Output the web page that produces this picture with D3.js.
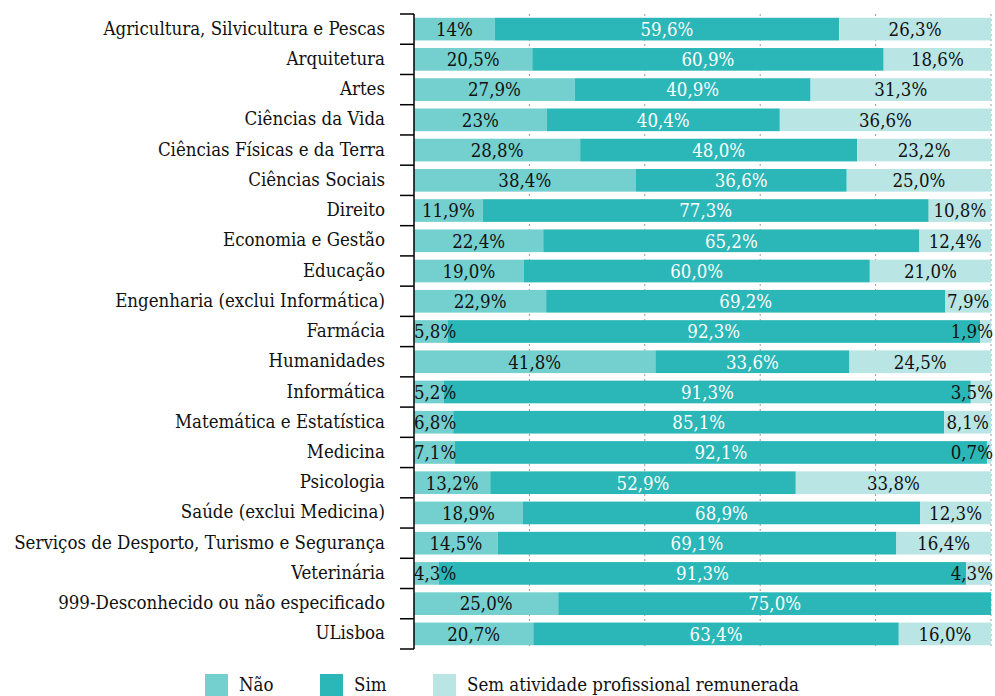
<!DOCTYPE html>
<html>
<head>
<meta charset="UTF-8" />
<title>Atividade profissional remunerada por área</title>
<style>
  body { margin: 0; background: #fff; }
</style>
</head>
<body>
<script src="https://d3js.org/d3.v7.min.js"></script>
<script>
// categories (top to bottom)
var categories = [
  "Agricultura, Silvicultura e Pescas",
  "Arquitetura",
  "Artes",
  "Ciências da Vida",
  "Ciências Físicas e da Terra",
  "Ciências Sociais",
  "Direito",
  "Economia e Gestão",
  "Educação",
  "Engenharia (exclui Informática)",
  "Farmácia",
  "Humanidades",
  "Informática",
  "Matemática e Estatística",
  "Medicina",
  "Psicologia",
  "Saúde (exclui Medicina)",
  "Serviços de Desporto, Turismo e Segurança",
  "Veterinária",
  "999-Desconhecido ou não especificado",
  "ULisboa"
];

// values as printed in the chart (pt-PT decimal comma)
var nao = ["14", "20,5", "27,9", "23", "28,8", "38,4", "11,9", "22,4", "19,0", "22,9", "5,8",
           "41,8", "5,2", "6,8", "7,1", "13,2", "18,9", "14,5", "4,3", "25,0", "20,7"];
var sim = ["59,6", "60,9", "40,9", "40,4", "48,0", "36,6", "77,3", "65,2", "60,0", "69,2", "92,3",
           "33,6", "91,3", "85,1", "92,1", "52,9", "68,9", "69,1", "91,3", "75,0", "63,4"];
var sem = ["26,3", "18,6", "31,3", "36,6", "23,2", "25,0", "10,8", "12,4", "21,0", "7,9", "1,9",
           "24,5", "3,5", "8,1", "0,7", "33,8", "12,3", "16,4", "4,3", "", "16,0"];

var seriesNames = ["Não", "Sim", "Sem atividade profissional remunerada"];
var seriesColors = ["#74cfcf", "#2bb7b7", "#b9e5e5"];
var labelColors = ["#111", "#fff", "#111"];

var W = 995, H = 696;
var margin = { top: 14, right: 4, bottom: 47, left: 414 };
var FONT = "'DejaVu Serif Condensed', 'DejaVu Serif', serif";
var FS = "18.5px";

function num(s) { return s === "" ? 0 : +s.replace(",", "."); }

var rows = categories.map(function(c, i) {
  return { cat: c, "Não": num(nao[i]), "Sim": num(sim[i]),
           "Sem atividade profissional remunerada": num(sem[i]),
           labels: [nao[i], sim[i], sem[i]] };
});

var stacked = d3.stack()
  .keys(seriesNames)
  .offset(d3.stackOffsetExpand)(rows);

var svg = d3.select("body").append("svg")
  .attr("width", W)
  .attr("height", H)
  .style("font-family", FONT)
  .style("font-stretch", "condensed");

var x = d3.scaleLinear()
  .domain([0, 1])
  .range([margin.left, W - margin.right]);

var y = d3.scaleBand()
  .domain(categories)
  .range([margin.top, H - margin.bottom])
  .paddingInner(0.25)
  .paddingOuter(0.125);

var top0 = y.range()[0];

// dashed vertical grid
svg.append("g")
  .selectAll("line")
  .data([0.2, 0.4, 0.6, 0.8, 1])
  .join("line")
  .attr("x1", function(d) { return x(d); })
  .attr("x2", function(d) { return x(d); })
  .attr("y1", top0)
  .attr("y2", y.range()[1])
  .attr("stroke", "#999")
  .attr("stroke-width", 1)
  .attr("stroke-dasharray", "2,3");

// bars
var layers = svg.append("g")
  .selectAll("g")
  .data(stacked)
  .join("g")
  .attr("fill", function(d, i) { return seriesColors[i]; });

layers.selectAll("rect")
  .data(function(d) { return d; })
  .join("rect")
  .attr("x", function(d) { return x(d[0]); })
  .attr("width", function(d) { return x(d[1]) - x(d[0]); })
  .attr("y", function(d) { return y(d.data.cat); })
  .attr("height", y.bandwidth());

// value labels, centred on segment but kept inside the bar
var lab = svg.append("g")
  .style("font-size", FS);

stacked.forEach(function(layer, si) {
  layer.forEach(function(d) {
    var txt = d.data.labels[si];
    if (!txt) return;
    var t = lab.append("text")
      .attr("fill", labelColors[si])
      .attr("text-anchor", "middle")
      .attr("y", y(d.data.cat) + y.bandwidth() / 2)
      .attr("dy", "0.37em")
      .text(txt + "%");
    var w = t.node().getComputedTextLength();
    var cx = (x(d[0]) + x(d[1])) / 2;
    cx = Math.max(x(0) + w / 2, Math.min(x(1) - w / 2 + 2, cx));
    t.attr("x", cx);
  });
});

// left axis: line, ticks between categories, labels at band centre
var axis = svg.append("g");

axis.append("line")
  .attr("x1", x(0)).attr("x2", x(0))
  .attr("y1", top0).attr("y2", y.range()[1])
  .attr("stroke", "#000")
  .attr("stroke-width", 1.5);

axis.selectAll("line.tick")
  .data(d3.range(categories.length + 1))
  .join("line")
  .attr("class", "tick")
  .attr("x1", x(0) - 14).attr("x2", x(0))
  .attr("y1", function(i) { return top0 + i * y.step(); })
  .attr("y2", function(i) { return top0 + i * y.step(); })
  .attr("stroke", "#000")
  .attr("stroke-width", 1.5);

axis.selectAll("text")
  .data(categories)
  .join("text")
  .attr("x", x(0) - 29)
  .attr("y", function(d) { return y(d) + y.bandwidth() / 2; })
  .attr("dy", "0.3em")
  .attr("text-anchor", "end")
  .style("font-size", FS)
  .attr("fill", "#111")
  .text(function(d) { return d; });

// legend
var legendX = [205, 320, 433];
var legend = svg.append("g")
  .selectAll("g")
  .data(seriesNames)
  .join("g")
  .attr("transform", function(d, i) { return "translate(" + legendX[i] + ",674)"; });

legend.append("rect")
  .attr("width", 23)
  .attr("height", 23)
  .attr("fill", function(d, i) { return seriesColors[i]; });

legend.append("text")
  .attr("x", 34)
  .attr("y", 17)
  .style("font-size", FS)
  .attr("fill", "#111")
  .text(function(d) { return d; });
</script>
</body>
</html>
